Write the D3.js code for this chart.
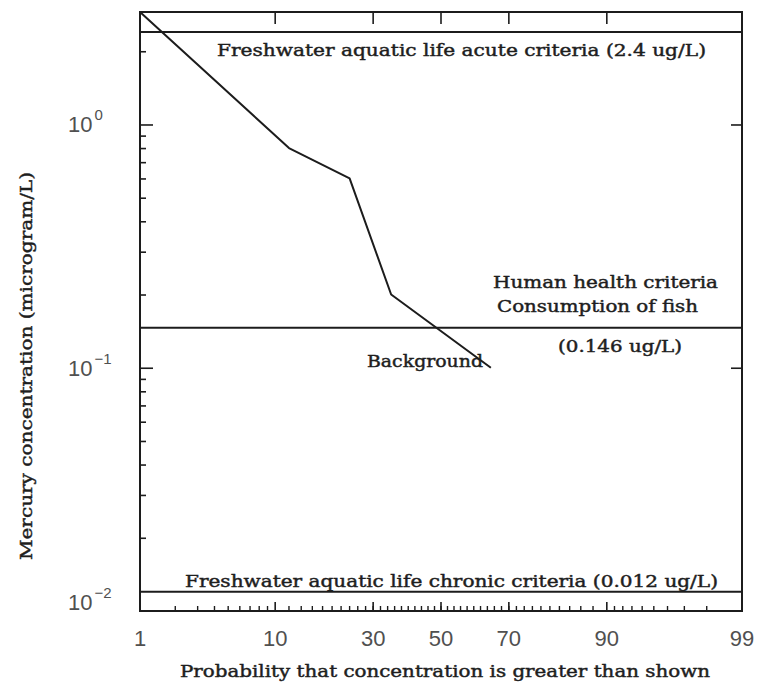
<!DOCTYPE html>
<html>
<head>
<meta charset="utf-8">
<script src="https://cdn.jsdelivr.net/npm/d3@7/dist/d3.min.js"></script>
<style>
  body { margin: 0; background: #fff; }
  svg { display: block; }
</style>
</head>
<body>
<svg id="chart" width="757" height="685"></svg>
<script>
// Background mercury concentrations (probability of exceedance, %) and values (ug/L)
const probability = [1, 12, 24, 35, 65];
const mercury = [2.9, 0.8, 0.6, 0.2, 0.1];

// Water quality criteria
const criteriaValues = [2.4, 0.146, 0.012];

// Axis ticks
const xTickLabels = [1, 10, 30, 50, 70, 90, 99];
const xMajorTicks = [10, 30, 50, 70, 90];
const xMinorTicks = [...d3.range(2, 10), ...d3.range(12, 90, 2), ...d3.range(91, 99)];
const yDecades = [1, 0.1, 0.01];
const yExponents = ["0", "\u22121", "\u22122"];
const yMinorTicks = [2, 0.9, 0.8, 0.7, 0.6, 0.5, 0.4, 0.3, 0.2,
                     0.09, 0.08, 0.07, 0.06, 0.05, 0.04, 0.03, 0.02];

// Inverse standard normal CDF (Acklam's rational approximation)
function probit(p) {
  const a = [-3.969683028665376e+01, 2.209460984245205e+02, -2.759285104469687e+02,
             1.383577518672690e+02, -3.066479806614716e+01, 2.506628277459239e+00];
  const b = [-5.447609879822406e+01, 1.615858368580409e+02, -1.556989798598866e+02,
             6.680131188771972e+01, -1.328068155288572e+01];
  const c = [-7.784894002430293e-03, -3.223964580411365e-01, -2.400758277161838e+00,
             -2.549732539343734e+00, 4.374664141464968e+00, 2.938163982698783e+00];
  const d = [7.784695709041462e-03, 3.224671290700398e-01, 2.445134137142996e+00,
             3.754408661907416e+00];
  const pl = 0.02425, ph = 1 - pl;
  let q, r;
  if (p < pl) {
    q = Math.sqrt(-2 * Math.log(p));
    return (((((c[0]*q+c[1])*q+c[2])*q+c[3])*q+c[4])*q+c[5]) /
           ((((d[0]*q+d[1])*q+d[2])*q+d[3])*q+1);
  }
  if (p <= ph) {
    q = p - 0.5; r = q * q;
    return (((((a[0]*r+a[1])*r+a[2])*r+a[3])*r+a[4])*r+a[5])*q /
           (((((b[0]*r+b[1])*r+b[2])*r+b[3])*r+b[4])*r+1);
  }
  q = Math.sqrt(-2 * Math.log(1 - p));
  return -(((((c[0]*q+c[1])*q+c[2])*q+c[3])*q+c[4])*q+c[5]) /
          ((((d[0]*q+d[1])*q+d[2])*q+d[3])*q+1);
}

const plotLeft = 140, plotRight = 742, plotTop = 12, plotBottom = 611;
const ink = "#1c1c1c";
const labelFont = "'DejaVu Serif', 'Liberation Serif', serif";
const tickFont = "'Liberation Sans', Arial, sans-serif";

const svg = d3.select("#chart");

// Normal-probability x scale, log y scale
const zScale = d3.scaleLinear().domain([probit(0.01), probit(0.99)]).range([plotLeft, plotRight]);
const x = p => zScale(probit(p / 100));
const y = d3.scaleLog().domain([0.01, 2.9]).range([plotBottom, plotTop]);

function styleAxis(g) {
  g.select(".domain").remove();
  g.selectAll(".tick line").attr("stroke", ink).attr("stroke-width", 1.6);
  g.selectAll(".tick text").remove();
}

// Bottom axis: minor + major ticks (pointing inward)
svg.append("g").selectAll("line")
  .data(xMinorTicks)
  .join("line")
  .attr("x1", d => x(d)).attr("x2", d => x(d))
  .attr("y1", plotBottom).attr("y2", plotBottom - 5)
  .attr("stroke", ink).attr("stroke-width", 1.4);
svg.append("g").selectAll("line").data(xMajorTicks)
  .join("line")
  .attr("x1", d => x(d)).attr("x2", d => x(d))
  .attr("y1", plotBottom).attr("y2", plotBottom - 9)
  .attr("stroke", ink).attr("stroke-width", 1.6);
// Top axis: major ticks only
svg.append("g").selectAll("line").data(xMajorTicks)
  .join("line")
  .attr("x1", d => x(d)).attr("x2", d => x(d))
  .attr("y1", plotTop).attr("y2", plotTop + 12)
  .attr("stroke", ink).attr("stroke-width", 1.6);

// Left axis: decades + minor ticks
svg.append("g").attr("transform", `translate(${plotLeft},0)`)
  .call(d3.axisRight(y).tickValues(yDecades.filter(v => v > 0.01)).tickSize(13))
  .call(styleAxis);
svg.append("g").attr("transform", `translate(${plotLeft},0)`)
  .call(d3.axisRight(y).tickValues(yMinorTicks).tickSize(6))
  .call(styleAxis);
// Right axis: decades
svg.append("g").attr("transform", `translate(${plotRight},0)`)
  .call(d3.axisLeft(y).tickValues(yDecades.filter(v => v > 0.01)).tickSize(11))
  .call(styleAxis);

// Frame
svg.append("rect")
  .attr("x", plotLeft).attr("y", plotTop)
  .attr("width", plotRight - plotLeft).attr("height", plotBottom - plotTop)
  .attr("fill", "none").attr("stroke", ink).attr("stroke-width", 2);

// Criteria lines
svg.append("g").selectAll("line").data(criteriaValues)
  .join("line")
  .attr("x1", plotLeft).attr("x2", plotRight)
  .attr("y1", d => y(d)).attr("y2", d => y(d))
  .attr("stroke", ink).attr("stroke-width", 2);

// Background concentration curve
const pts = probability.map((p, i) => [p, mercury[i]]);
svg.append("path")
  .datum(pts)
  .attr("fill", "none")
  .attr("stroke", ink)
  .attr("stroke-width", 2)
  .attr("stroke-linejoin", "round")
  .attr("d", d3.line().x(d => x(d[0])).y(d => y(d[1])));

// Y tick labels: 10^n
const yLab = svg.append("g").attr("font-family", tickFont).attr("fill", "#505050");
yDecades.forEach((v, i) => {
  const base = Math.min(y(v) + 8, 610);
  const t = yLab.append("text").attr("x", 68).attr("y", base).attr("font-size", 22);
  t.append("tspan").text("10");
  t.append("tspan").attr("dy", -12).attr("dx", 2).attr("font-size", 15).text(yExponents[i]);
});

// X tick labels
svg.append("g").attr("font-family", tickFont).attr("fill", "#505050")
  .attr("font-size", 22).attr("text-anchor", "middle")
  .selectAll("text").data(xTickLabels).join("text")
  .attr("x", d => x(d)).attr("y", 646)
  .text(d => d);

// Annotations
const ann = svg.append("g").attr("font-family", labelFont).attr("fill", "#1e1e1e")
  .attr("stroke", "#1e1e1e").attr("stroke-width", 0.45)
  .attr("font-size", 16.5);
function note(text, x0, yb, w) {
  ann.append("text").attr("x", x0).attr("y", yb)
    .attr("textLength", w).attr("lengthAdjust", "spacingAndGlyphs").text(text);
}
note("Freshwater aquatic life acute criteria (2.4 ug/L)", 217, 56, 489);
note("Human health criteria", 493, 288, 225);
note("Consumption of fish", 497, 312, 201);
note("(0.146 ug/L)", 558, 352, 124);
note("Background", 367, 367, 116);
note("Freshwater aquatic life chronic criteria (0.012 ug/L)", 185, 587, 533);

// Axis titles
note("Probability that concentration is greater than shown", 180, 677, 530);
ann.append("text")
  .attr("transform", "translate(32,560) rotate(-90)")
  .attr("textLength", 388).attr("lengthAdjust", "spacingAndGlyphs")
  .text("Mercury concentration (microgram/L)");
</script>
</body>
</html>
